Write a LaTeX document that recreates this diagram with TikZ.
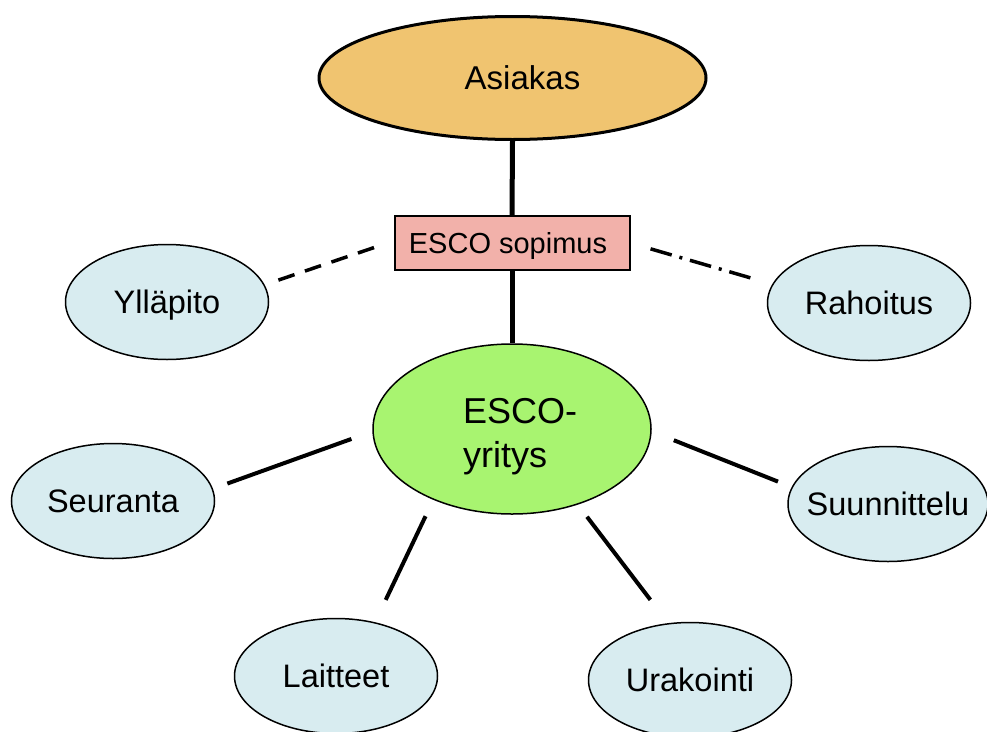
\documentclass[tikz,border=0pt]{standalone}
\usepackage{fontspec}
\setmainfont{Liberation Sans}
\usetikzlibrary{shapes.geometric}

\definecolor{asiakasfill}{RGB}{240,196,112}
\definecolor{sopimusfill}{RGB}{242,177,170}
\definecolor{escofill}{RGB}{168,244,112}
\definecolor{palvelufill}{RGB}{216,236,240}

% centred text that does not widen its node
\newcommand\zbox[1]{\makebox[0pt]{#1}}

\begin{document}
\begin{tikzpicture}[x=1pt,y=-1pt,
  oval/.style={ellipse, draw=black, line width=1.5pt, inner sep=0pt,
    fill=palvelufill, minimum width=203pt, minimum height=115pt,
    font=\fontsize{32.5}{39}\selectfont, text height=23pt, text depth=1pt},
  client/.style={oval, fill=asiakasfill, line width=3pt,
    minimum width=387pt, minimum height=123pt, font=\fontsize{33}{40}\selectfont},
  provider/.style={oval, fill=escofill, minimum width=278pt, minimum height=170pt},
  contract/.style={rectangle, draw=black, line width=2pt, fill=sopimusfill,
    minimum width=235pt, minimum height=54pt, inner sep=0pt,
    font=\fontsize{29}{35}\selectfont, text height=22pt, text depth=1.2pt},
  link/.style={line width=4pt, black},
  trunk/.style={line width=5pt, black},
  dashlink/.style={line width=3.5pt, black, dash pattern=on 17pt off 11pt},
  dotdashlink/.style={line width=3.5pt, black, dash pattern=on 22pt off 8pt on 3pt off 8pt},
]
\useasboundingbox (0,0) rectangle (987,731);

% central contract and its parties
\node[client]   (asiakas)  at (512.5,78) {\zbox{\hspace*{20pt}Asiakas}};
\node[contract] (sopimus)  at (512,243)  {\zbox{ESCO sopimus\hspace*{8pt}}};
\node[provider] (esco)     at (512,429)  {};
\node[anchor=base west, inner sep=0pt, font=\fontsize{36}{44}\selectfont]
  (esco-label) at (463,423) {\begin{tabular}[t]{@{}l@{}}ESCO-\\yritys\end{tabular}};

% services around the ESCO company
\node[oval] (yllapito)    at (167,302) {\zbox{Ylläpito}};
\node[oval] (rahoitus)    at (869,303) {\zbox{Rahoitus}};
\node[oval] (seuranta)    at (113,501) {\zbox{Seuranta}};
\node[oval, minimum width=200pt] (suunnittelu) at (888,504) {\zbox{Suunnittelu}};
\node[oval] (laitteet)    at (336,676) {\zbox{Laitteet}};
\node[oval] (urakointi)   at (690,680) {\zbox{Urakointi}};

% connectors
\draw[trunk] (asiakas.south) -- (sopimus.north);
\draw[trunk] (sopimus.south) -- (esco.north);
\draw[dashlink, shorten <=14.5pt, shorten >=20pt] (yllapito.10.1) -- (sopimus.179.4);
\draw[dotdashlink, shorten <=20.9pt, shorten >=22.8pt] (sopimus.0.6) -- (rahoitus.169.9);
\draw[link, shorten <=22.2pt, shorten >=15.3pt] (esco.181.6) -- (seuranta.7.5);
\draw[link, shorten <=18.1pt, shorten >=24.7pt] (esco.222.6) -- (laitteet.54.8);
\draw[link, shorten <=15.2pt, shorten >=29.3pt] (esco.311.4) -- (urakointi.111.6);
\draw[link, shorten <=23.8pt, shorten >=14.7pt] (esco.359.2) -- (suunnittelu.170.9);
\end{tikzpicture}
\end{document}
